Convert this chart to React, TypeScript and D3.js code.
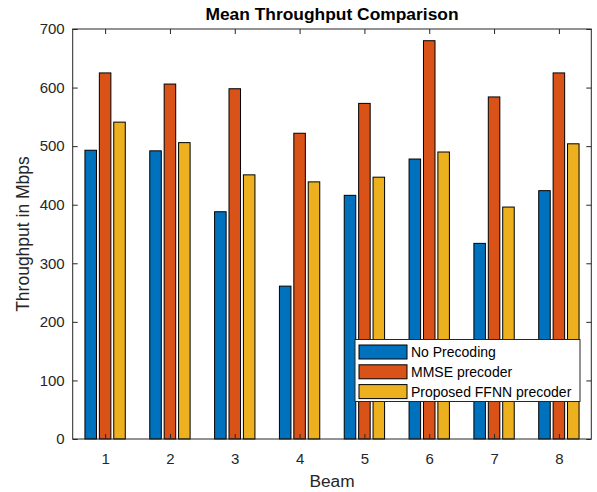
import { useEffect, useRef } from "react";
import * as d3 from "d3";

const beams = [1, 2, 3, 4, 5, 6, 7, 8];
const noPrecoding = [493, 492, 388, 261, 416, 478, 334, 424];
const mmsePrecoder = [625, 606, 598, 522, 573, 680, 584, 625];
const ffnnPrecoder = [541, 506, 451, 439, 447, 490, 396, 504];
const seriesNames = ["No Precoding", "MMSE precoder", "Proposed FFNN precoder"];
const seriesColors = ["#0072BD", "#D95319", "#EDB120"];
const yTicks = [0, 100, 200, 300, 400, 500, 600, 700];

const width = 597;
const height = 492;
const margin = { top: 29, right: 5.7, bottom: 53, left: 72.7 };

export default function App() {
  const svgRef = useRef<SVGSVGElement>(null);

  useEffect(() => {
    if (!svgRef.current) return;
    const svg = d3.select(svgRef.current);
    svg.selectAll("*").remove();

    const innerWidth = width - margin.left - margin.right;
    const innerHeight = height - margin.top - margin.bottom;
    const axisColor = "#262626";
    const font = "Liberation Sans, Arial, sans-serif";

    const g = svg
      .append("g")
      .attr("transform", `translate(${margin.left},${margin.top})`);

    const x = d3.scaleLinear().domain([0.5, 8.5]).range([0, innerWidth]);
    const y = d3.scaleLinear().domain([0, 700]).range([innerHeight, 0]);

    // MATLAB-style grouped bars: group width 2/3, bar width 0.8 of slot
    const groupWidth = 2 / 3;
    const slot = groupWidth / 3;
    const barW = x(0.5 + slot * 0.8) - x(0.5);

    const allSeries = [noPrecoding, mmsePrecoder, ffnnPrecoder];
    allSeries.forEach((vals, si) => {
      const offset = -groupWidth / 2 + slot * (si + 0.5);
      g.selectAll(`.bar-${si}`)
        .data(beams.map((b, i) => ({ b, v: vals[i] })))
        .enter()
        .append("rect")
        .attr("class", `bar-${si}`)
        .attr("x", (d) => x(d.b + offset) - barW / 2)
        .attr("y", (d) => y(d.v))
        .attr("width", barW)
        .attr("height", (d) => y(0) - y(d.v))
        .attr("fill", seriesColors[si])
        .attr("stroke", "#000")
        .attr("stroke-width", 1);
    });

    // Box
    g.append("rect")
      .attr("x", 0)
      .attr("y", 0)
      .attr("width", innerWidth)
      .attr("height", innerHeight)
      .attr("fill", "none")
      .attr("stroke", axisColor)
      .attr("stroke-width", 1);

    const tickLen = 5;

    // X axis bottom
    const xAxis = g
      .append("g")
      .attr("transform", `translate(0,${innerHeight})`)
      .call(d3.axisBottom(x).tickValues(beams).tickSize(-tickLen).tickPadding(14));
    xAxis.select(".domain").remove();
    xAxis.selectAll(".tick line").attr("stroke", axisColor);
    xAxis
      .selectAll(".tick text")
      .attr("fill", axisColor)
      .attr("font-size", "15px")
      .attr("font-family", font);

    // X ticks top
    g.append("g")
      .call(d3.axisTop(x).tickValues(beams).tickSize(-tickLen).tickFormat(() => ""))
      .call((a) => a.select(".domain").remove())
      .selectAll(".tick line")
      .attr("stroke", axisColor);

    // Y axis left
    const yAxis = g
      .append("g")
      .call(d3.axisLeft(y).tickValues(yTicks).tickSize(-tickLen).tickPadding(8));
    yAxis.select(".domain").remove();
    yAxis.selectAll(".tick line").attr("stroke", axisColor);
    yAxis
      .selectAll(".tick text")
      .attr("fill", axisColor)
      .attr("font-size", "15px")
      .attr("font-family", font);

    // Y ticks right
    g.append("g")
      .attr("transform", `translate(${innerWidth},0)`)
      .call(d3.axisRight(y).tickValues(yTicks).tickSize(-tickLen).tickFormat(() => ""))
      .call((a) => a.select(".domain").remove())
      .selectAll(".tick line")
      .attr("stroke", axisColor);

    // Title
    svg
      .append("text")
      .attr("x", margin.left + innerWidth / 2)
      .attr("y", 20)
      .attr("text-anchor", "middle")
      .attr("font-family", font)
      .attr("font-size", "17.4px")
      .attr("font-weight", "bold")
      .attr("fill", "#000")
      .text("Mean Throughput Comparison");

    // X label
    svg
      .append("text")
      .attr("x", margin.left + innerWidth / 2)
      .attr("y", 486.5)
      .attr("text-anchor", "middle")
      .attr("font-family", font)
      .attr("font-size", "17.3px")
      .attr("fill", axisColor)
      .text("Beam");

    // Y label
    svg
      .append("text")
      .attr("transform", `translate(29.2,${margin.top + innerHeight / 2}) rotate(-90)`)
      .attr("text-anchor", "middle")
      .attr("font-family", font)
      .attr("font-size", "17.5px")
      .attr("fill", axisColor)
      .text("Throughput in Mbps");

    // Legend
    const lg = svg.append("g").attr("transform", "translate(355,339.5)");
    lg.append("rect")
      .attr("width", 225)
      .attr("height", 62)
      .attr("fill", "#fff")
      .attr("stroke", axisColor)
      .attr("stroke-width", 1);
    seriesNames.forEach((name, i) => {
      const row = lg.append("g").attr("transform", `translate(4,${5.5 + i * 19.8})`);
      row
        .append("rect")
        .attr("width", 48)
        .attr("height", 14)
        .attr("fill", seriesColors[i])
        .attr("stroke", "#000")
        .attr("stroke-width", 1);
      row
        .append("text")
        .attr("x", 52)
        .attr("y", 12)
        .attr("font-family", font)
        .attr("font-size", "14px")
        .attr("fill", "#000")
        .text(name);
    });
  }, []);

  return (
    <svg
      ref={svgRef}
      width={width}
      height={height}
      style={{ position: "absolute", left: 0, top: 0, background: "#fff" }}
    />
  );
}
